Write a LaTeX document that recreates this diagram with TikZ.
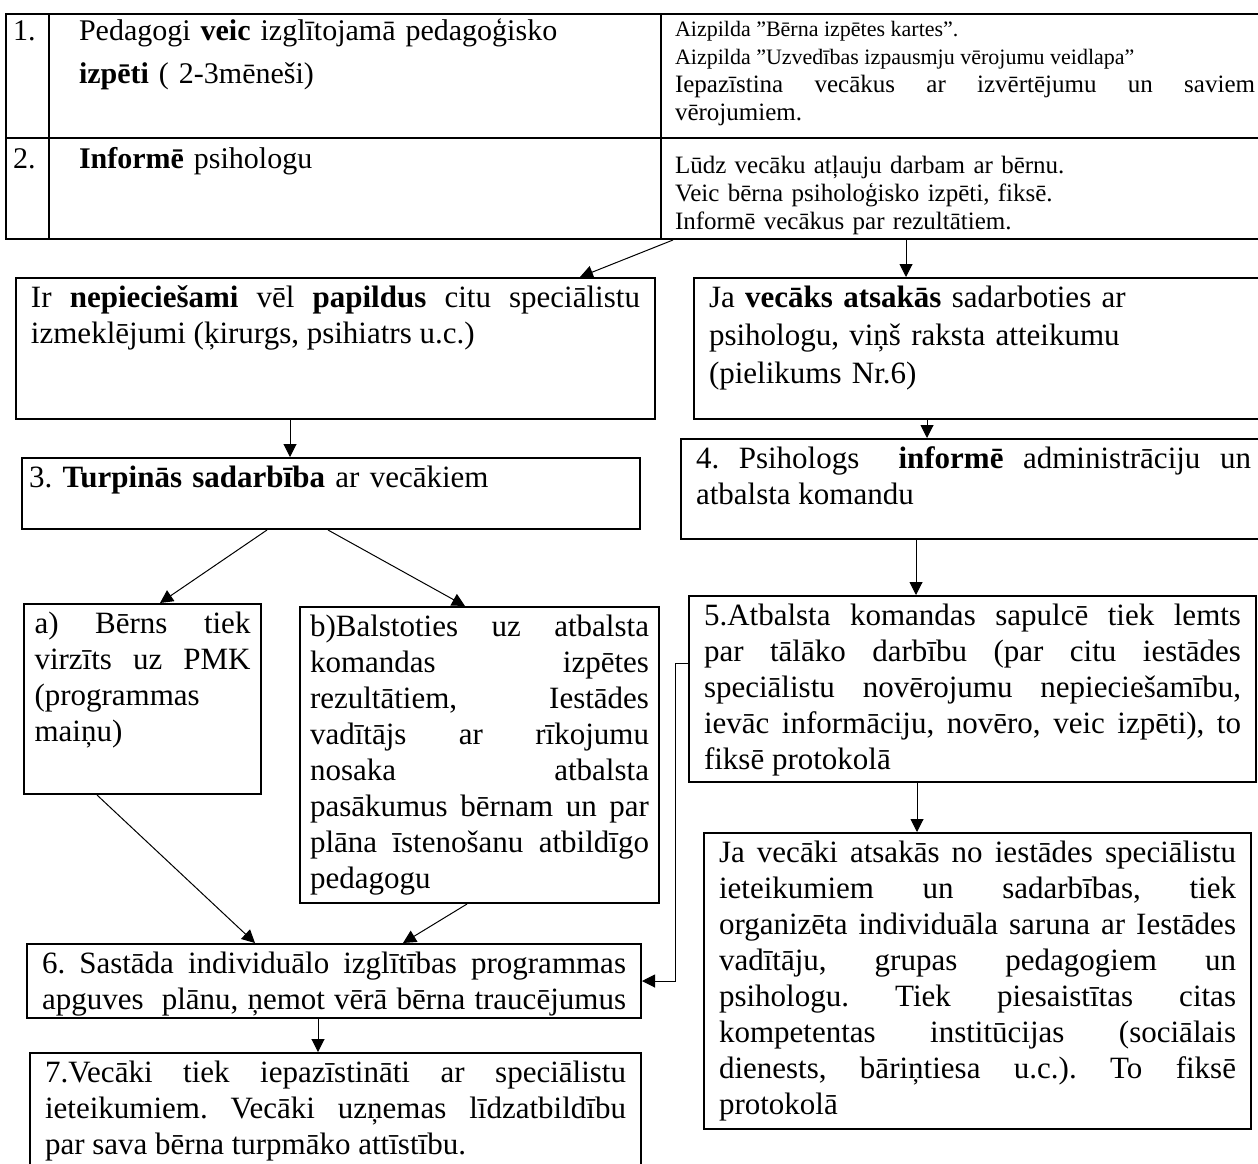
\documentclass[tikz,border=0pt]{standalone}
\usepackage{fontspec}
\setmainfont{Liberation Serif}
\usetikzlibrary{arrows.meta}
\frenchspacing

\begin{document}
\begin{tikzpicture}[x=0.5pt, y=-0.5pt]
\tikzstyle{box} = [draw, line width=1pt, anchor=north west, inner xsep=7.5pt, inner ysep=0pt, align=justify, font=\fontsize{15.5}{18}\selectfont, text height=14.5pt]
\tikzstyle{cell} = [box, inner xsep=3.5pt]
\tikzstyle{arr} = [line width=0.5pt, -{Triangle[length=6.5pt, width=6.5pt]}]
\useasboundingbox (0,0) rectangle (1258,1163);

% tabula augsa
\node (tab1n) [cell, align=left, text width=14.5pt, text height=13pt, text depth=49pt, font=\fontsize{15}{21.5}\selectfont] at (5,13) {1.};
\node (tab1l) [cell, align=left, inner xsep=15pt, text width=276pt, text height=13pt, text depth=49pt, font=\fontsize{15}{21.5}\selectfont] at (48,13)
  {Pedagogi \textbf{veic} izglītojamā pedagoģisko\\ \textbf{izpēti} ( 2-3mēneši)};
\node (tab1r) [cell, inner xsep=7pt, text width=290pt, text height=11pt, text depth=51pt, font=\fontsize{12.5}{14}\selectfont] at (660,13)
  {{\fontsize{11}{14}\selectfont Aizpilda ”Bērna izpētes kartes”.\\
   Aizpilda ”Uzvedības izpausmju vērojumu veidlapa”}\\
   Iepazīstina vecākus ar izvērtējumu un saviem\linebreak
   vērojumiem.};
\node (tab2n) [cell, align=left, text width=14.5pt, text height=15pt, text depth=35.5pt, font=\fontsize{15}{21.5}\selectfont] at (5,137) {2.};
\node (tab2l) [cell, align=left, inner xsep=15pt, text width=276pt, text height=15pt, text depth=35.5pt, font=\fontsize{15}{21.5}\selectfont] at (48,137)
  {\textbf{Informē} psihologu};
\node (tab2r) [cell, align=left, inner xsep=7pt, text width=290pt, text height=17.5pt, text depth=33pt, font=\fontsize{12.5}{14}\selectfont] at (660,137)
  {Lūdz vecāku atļauju darbam ar bērnu.\\
   Veic bērna psiholoģisko izpēti, fiksē.\\
   Informē vecākus par rezultātiem.};

% kreisa puse
\node (extra) [box, text width=304.5pt, text depth=56pt] at (15,277)
  {Ir \textbf{nepieciešami} vēl \textbf{papildus} citu speciālistu\linebreak
   izmeklējumi (ķirurgs, psihiatrs u.c.)};
\node (coop) [box, align=left, inner xsep=3.5pt, text width=302pt, text depth=21pt] at (21,457)
  {3. \textbf{Turpinās sadarbība} ar vecākiem};
\node (pmk) [box, inner xsep=5.25pt, text width=108pt, text depth=80.5pt] at (23,603)
  {a) Bērns tiek\linebreak virzīts uz PMK\linebreak (programmas\\ maiņu)};
\node (order) [box, inner xsep=5pt, text width=169.5pt, text depth=133.5pt] at (299,606)
  {b)Balstoties uz atbalsta\linebreak komandas izpētes\linebreak rezultātiem, Iestādes\linebreak
   vadītājs ar rīkojumu\linebreak nosaka atbalsta\linebreak pasākumus bērnam un par\linebreak
   plāna īstenošanu atbildīgo\linebreak pedagogu};
\node (plan) [box, text width=292pt, text depth=22.5pt] at (26,943)
  {6. Sastāda individuālo izglītības programmas\linebreak
   apguves \ plānu, ņemot vērā bērna traucējumus\parfillskip=0pt\par};
\node (parents) [box, text width=290.5pt, text depth=55.5pt] at (29,1052)
  {7.Vecāki tiek iepazīstināti ar speciālistu\linebreak
   ieteikumiem. Vecāki uzņemas līdzatbildību\linebreak
   par sava bērna turpmāko attīstību.};

% laba puse
\node (refuse) [box, align=left, text width=272.5pt, text depth=56pt, font=\fontsize{15.5}{19}\selectfont] at (693,277)
  {Ja \textbf{vecāks atsakās} sadarboties ar\\ psihologu, viņš raksta atteikumu\\ (pielikums Nr.6)};
\node (inform) [box, text width=277.5pt, text depth=35.5pt] at (680,438)
  {4. Psihologs \ \textbf{informē} administrāciju un\linebreak atbalsta komandu};
\node (team) [box, text width=268.5pt, text depth=78.5pt] at (688,595)
  {5.Atbalsta komandas sapulcē tiek lemts\linebreak
   par tālāko darbību (par citu iestādes\linebreak
   speciālistu novērojumu nepieciešamību,\linebreak
   ievāc informāciju, novēro, veic izpēti), to\linebreak
   fiksē protokolā};
\node (decline) [box, text width=258.5pt, text depth=133.5pt] at (703,832)
  {Ja vecāki atsakās no iestādes speciālistu\linebreak
   ieteikumiem un sadarbības, tiek\linebreak
   organizēta individuāla saruna ar Iestādes\linebreak
   vadītāju, grupas pedagogiem un\linebreak
   psihologu. Tiek piesaistītas citas\linebreak
   kompetentas institūcijas (sociālais\linebreak
   dienests, bāriņtiesa u.c.). To fiksē\linebreak
   protokolā};

% bultas
\foreach \from/\fx/\to/\tx in {tab2r/6.5/extra/282.5, tab2r/123/refuse/106.5, extra/137.5/coop/134.5,
  refuse/117/inform/123.5, coop/123/pmk/68.5, coop/153.5/order/83, inform/118/team/114,
  pmk/37/plan/114.5, order/84/plan/188.5, team/114.5/decline/107, plan/146/parents/144.5}
\draw [arr] ([xshift=\fx pt]\from.south west) -- ([xshift=\tx pt]\to.north west);
\draw [arr] ([yshift=-34pt]team.north west) -- ++(-6.5pt,0) |- (plan.east);
\end{tikzpicture}
\end{document}
